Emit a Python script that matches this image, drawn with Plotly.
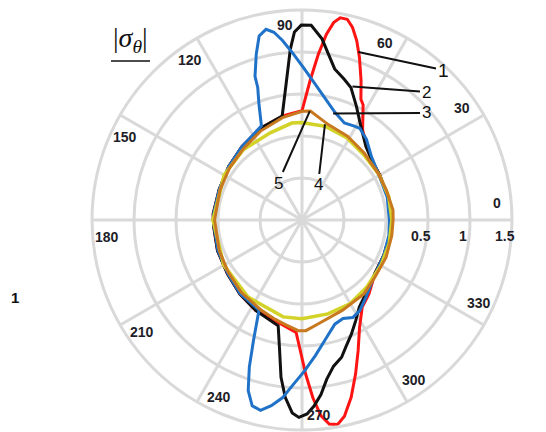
import numpy as np
import plotly.graph_objects as go

# ---------------- data (angle in degrees, radial value) ----------------
theta_1 = [0, 15, 30, 40, 47, 52, 56, 62, 64, 67, 70.5, 73, 75.3, 77.3, 79.3, 80.9, 82.5, 84.4, 86.7, 90,
           100, 114, 129, 144, 160, 176, 184, 200, 216, 230, 243, 255, 267, 269.3, 271.4, 273.5, 275.5,
           277.6, 279.9, 282.2, 285.5, 289.2, 293.3, 298.2, 304.7, 312, 324, 337, 350, 360]
r_1 = [0.06, 0.06, 0.07, 0.09, 0.15, 0.22, 0.29, 0.55, 0.60, 0.80, 1.05, 1.23, 1.37, 1.45, 1.45, 1.38, 1.23,
       0.98, 0.66, 0.30, 0.26, 0.20, 0.13, 0.08, 0.05, 0.06, 0.055, 0.07, 0.095, 0.15, 0.21, 0.24, 0.34,
       0.56, 0.84, 1.12, 1.34, 1.45, 1.47, 1.39, 1.19, 0.94, 0.69, 0.45, 0.26, 0.19, 0.075, 0.06, 0.06, 0.06]

theta_2 = [0, 15, 30, 40, 49, 58, 64.4, 69.7, 73.3, 77.8, 83.7, 87.3, 90.2, 92.3, 93.9, 96.5, 100.8, 114,
           129, 144, 160, 176, 184, 200, 216, 230, 243, 257.3, 260.3, 262.4, 264.6, 267.1, 269.1, 271.5,
           273.7, 276.2, 278.8, 282.2, 286.1, 289, 293.4, 298, 303.4, 312, 324, 337, 350, 360]
r_2 = [0.06, 0.06, 0.07, 0.09, 0.16, 0.32, 0.50, 0.68, 0.75, 0.84, 1.17, 1.32, 1.32, 1.24, 1.04, 0.65, 0.26,
       0.20, 0.13, 0.08, 0.05, 0.06, 0.055, 0.07, 0.095, 0.15, 0.21, 0.29, 0.58, 0.89, 1.12, 1.30, 1.35,
       1.31, 1.22, 1.09, 0.92, 0.78, 0.70, 0.60, 0.48, 0.36, 0.24, 0.15, 0.075, 0.06, 0.06, 0.06]

theta_3 = [0, 15, 30, 42.4, 51.4, 57.8, 60.9, 66.4, 73, 78.3, 84.3, 89.1, 93, 96.2, 98.5, 100.7, 103.1,
           105.4, 108.1, 108.5, 110.4, 113.3, 129, 144, 160, 176, 184, 200, 216, 230, 244.5, 248.1, 250.3,
           252.5, 255, 257.7, 260.6, 263.7, 267, 270.9, 275.7, 281.8, 287.5, 292.6, 297.5, 302.5, 310, 320,
           337, 350, 360]
r_3 = [0.04, 0.05, 0.06, 0.12, 0.23, 0.29, 0.28, 0.26, 0.34, 0.45, 0.62, 0.80, 0.98, 1.15, 1.26, 1.31, 1.25,
       1.05, 0.80, 0.66, 0.47, 0.22, 0.13, 0.08, 0.05, 0.055, 0.05, 0.065, 0.09, 0.145, 0.19, 0.55, 0.86,
       1.13, 1.29, 1.32, 1.24, 1.13, 0.96, 0.80, 0.62, 0.43, 0.30, 0.27, 0.31, 0.28, 0.19, 0.10,
       0.06, 0.05, 0.04]

theta_4 = [0, 15, 30, 46.6, 61.2, 76.1, 90.6, 96, 110, 130, 150, 180, 210, 235, 259, 270, 285.4, 299.7,
           313.9, 330, 345, 360]
r_4 = [0.07, 0.07, 0.065, 0.07, 0.115, 0.15, 0.16, 0.16, 0.105, 0.09, 0.07, 0.06, 0.075, 0.12, 0.175, 0.175,
       0.16, 0.15, 0.11, 0.085, 0.075, 0.07]

theta_5 = [0, 6.3, 19.7, 31.7, 47.1, 61.5, 74.6, 85.6, 90, 100.8, 115, 129, 144, 160, 180, 200, 215, 230,
           245, 255, 261, 268, 272, 279, 294, 310, 322, 336, 350, 360]
r_5 = [0.085, 0.09, 0.065, 0.063, 0.088, 0.135, 0.178, 0.30, 0.295, 0.24, 0.168, 0.10, 0.063, 0.04, 0.04,
       0.05, 0.075, 0.125, 0.175, 0.225, 0.26, 0.318, 0.318, 0.25, 0.178, 0.148, 0.103, 0.095, 0.085, 0.085]

series_names = ["1", "2", "3", "4", "5"]
series_colors = ["#ff1414", "#111111", "#1f72c8", "#d2d228", "#c8781e"]

angular_ticks = [0, 30, 60, 90, 120, 150, 180, 210, 240, 270, 300, 330]
radial_gridvals = [-0.5, 0, 0.5, 1, 1.5]
radial_labels = ["0.5", "1", "1.5"]
r_min, r_max = -1, 1.5

# ---------------- layout geometry ----------------
W, H = 546, 432
CX, CY, R = 302, 220, 210


def to_px(theta_deg, value):
    rho = (value - r_min) / (r_max - r_min)
    t = np.deg2rad(theta_deg)
    return CX + R * rho * np.cos(t), CY - R * rho * np.sin(t)


fig = go.Figure()
thetas = [theta_1, theta_2, theta_3, theta_4, theta_5]
rs = [r_1, r_2, r_3, r_4, r_5]
widths = [3, 3, 3, 3.5, 3]
for th, rr, name, col, w in zip(thetas, rs, series_names, series_colors, widths):
    fig.add_trace(go.Scatterpolar(theta=th, r=rr, mode="lines", name=name,
                                  line=dict(color=col, width=w), showlegend=False,
                                  hoverinfo="skip"))

grid = "#d9d9d9"
tick_font = dict(family="Liberation Sans", size=14, color="#1e1e28", weight="bold")
fig.update_layout(
    width=W, height=H,
    margin=dict(l=0, r=0, t=0, b=0),
    paper_bgcolor="white",
    polar=dict(
        domain=dict(x=[(CX - R) / W, (CX + R) / W], y=[(H - CY - R) / H, (H - CY + R) / H]),
        bgcolor="white",
        radialaxis=dict(range=[r_min, r_max], tickmode="array", tickvals=radial_gridvals,
                        showticklabels=False, showline=False, gridcolor=grid, gridwidth=3,
                        ticks="", angle=0),
        angularaxis=dict(rotation=0, direction="counterclockwise", tickmode="array",
                         tickvals=angular_ticks, showticklabels=False, ticks="",
                         showline=True, linecolor=grid, linewidth=3,
                         gridcolor=grid, gridwidth=3),
    ),
)

annotations = []
# angular labels placed just inside the outer ring
for a in angular_ticks:
    t = np.deg2rad(a + 5)
    x = CX + 0.93 * R * np.cos(t)
    y = CY - 0.93 * R * np.sin(t)
    annotations.append(dict(x=x / W, y=1 - y / H, xref="paper", yref="paper", text=str(a),
                            xanchor="center", yanchor="middle", showarrow=False, font=tick_font))

# radial labels just left of the outer rings, below the 0 deg spoke
for lab in radial_labels:
    x, _ = to_px(0, float(lab))
    annotations.append(dict(x=(x - 7) / W, y=1 - (CY + 16) / H, xref="paper", yref="paper",
                            text=lab, xanchor="center", yanchor="middle", showarrow=False,
                            font=tick_font))

# curve labels with leader lines: (label, theta, value of the pointed curve, text position px)
callouts = [("1", 71.5, 1.11, 443, 70, 19),
            ("2", 69.3, 0.70, 426, 92, 17),
            ("3", 73.7, 0.32, 426, 113, 17),
            ("4", 76.5, 0.17, 318, 185, 17),
            ("5", 85.9, 0.30, 278, 183, 17)]
for lab, th, val, tx, ty, fs in callouts:
    px, py = to_px(th, val)
    annotations.append(dict(x=px / W, y=1 - py / H, xref="paper", yref="paper", text=lab,
                            showarrow=True, arrowhead=0, arrowwidth=2, arrowcolor="#111",
                            ax=tx - px, ay=ty - py, standoff=0,
                            font=dict(family="Liberation Sans", size=fs, color="#111")))

# axis quantity label (upper left) and stray "1" at left
annotations.append(dict(x=130 / W, y=1 - 40 / H, xref="paper", yref="paper",
                        text="|<i>σ</i><sub><i>θ</i></sub>|", showarrow=False,
                        xanchor="center", yanchor="middle",
                        font=dict(family="Liberation Serif", size=28, color="#111")))
annotations.append(dict(x=15 / W, y=1 - 297 / H, xref="paper", yref="paper", text="1",
                        showarrow=False, xanchor="center", yanchor="middle",
                        font=dict(family="Liberation Sans", size=15,
                                  color="#111", weight="bold")))
fig.update_layout(annotations=annotations)
fig.add_shape(type="line", xref="paper", yref="paper", x0=111 / W, x1=150 / W,
              y0=1 - 61 / H, y1=1 - 61 / H, line=dict(color="#111", width=1.5))

fig.write_html("out.html", config={"displayModeBar": False},
               post_script="document.body.style.margin='0';document.body.style.overflow='hidden';")
